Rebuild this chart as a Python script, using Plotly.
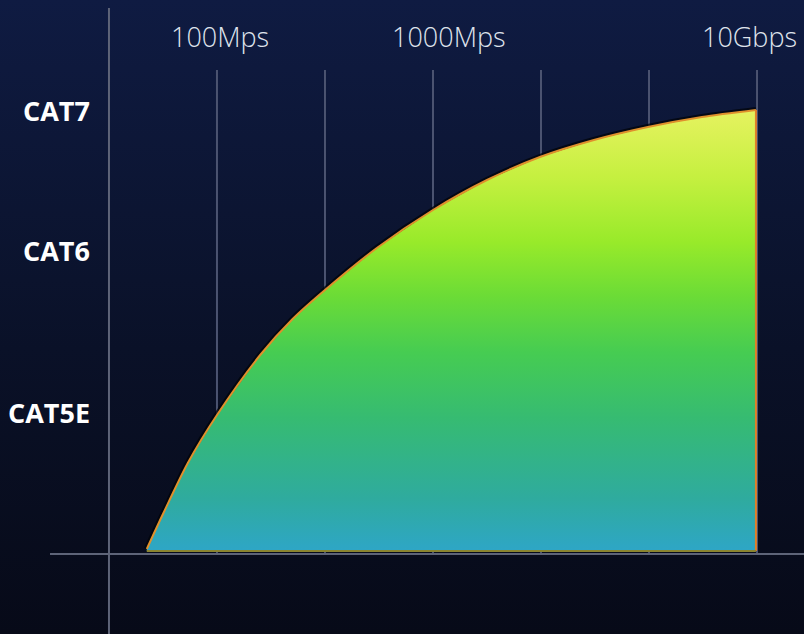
import plotly.graph_objects as go

# ---- data ----
speed_x = [0.35, 0.5, 0.73, 1.0, 1.4, 1.7, 2.0, 2.48, 3.0, 3.5, 3.99, 4.49, 4.99, 5.49, 5.99]
perf_y = [0.05, 0.40, 0.91, 1.39, 1.99, 2.35, 2.64, 3.06, 3.44, 3.74, 3.97, 4.14, 4.27, 4.37, 4.44]
base_y = 0.03

cat_labels = ["CAT5E", "CAT6", "CAT7"]
cat_y = [1.42, 3.04, 4.44]

speed_labels = ["100Mps", "1000Mps", "10Gbps"]
speed_label_x = [1.03, 3.15, 5.93]
speed_label_y = 5.18

grid_x = [1, 2, 3, 4, 5, 6]
grid_top = 4.84

# ---- axis ranges ----
X_RANGE = [-1.009, 6.435]
Y_RANGE = [-0.8, 5.54]

fig = go.Figure()

# background gradient
fig.add_trace(go.Scatter(
    x=[X_RANGE[0], X_RANGE[1], X_RANGE[1], X_RANGE[0], X_RANGE[0]],
    y=[Y_RANGE[0], Y_RANGE[0], Y_RANGE[1], Y_RANGE[1], Y_RANGE[0]],
    mode="none", fill="toself",
    fillgradient=dict(type="vertical",
                      colorscale=[[0, "#070a18"], [0.45, "#0a1128"], [1, "#0f1b42"]]),
    hoverinfo="skip", showlegend=False,
))

# grid lines
gx, gy = [], []
for v in grid_x:
    gx += [v, v, None]
    gy += [0, grid_top, None]
fig.add_trace(go.Scatter(x=gx, y=gy, mode="lines",
                         line=dict(color="#4b5370", width=2),
                         hoverinfo="skip", showlegend=False))

# axis lines
fig.add_trace(go.Scatter(x=[0, 0], y=[Y_RANGE[0], 5.46], mode="lines",
                         line=dict(color="#5e6478", width=2),
                         hoverinfo="skip", showlegend=False))
fig.add_trace(go.Scatter(x=[-0.546, X_RANGE[1]], y=[0, 0], mode="lines",
                         line=dict(color="#5e6478", width=2),
                         hoverinfo="skip", showlegend=False))

# soft dark shadow along the curve (drawn under the fill)
fig.add_trace(go.Scatter(x=speed_x, y=perf_y, mode="lines",
                         line=dict(color="rgba(2,4,10,0.75)", width=6, shape="spline", smoothing=0.8),
                         hoverinfo="skip", showlegend=False))

# filled area
px = speed_x + [speed_x[-1], speed_x[0]]
py = perf_y + [base_y, base_y]
fig.add_trace(go.Scatter(
    x=px, y=py, mode="lines", fill="toself",
    line=dict(color="rgba(0,0,0,0)", width=0),
    fillgradient=dict(type="vertical", start=base_y, stop=perf_y[-1],
                      colorscale=[[0.0, "#2ea6c6"], [0.12, "#2fab9e"], [0.3, "#36bb72"],
                                  [0.45, "#46cc52"], [0.58, "#6cdc36"], [0.7, "#98ea2a"],
                                  [0.85, "#c6f040"], [1.0, "#e6f260"]]),
    hoverinfo="skip", showlegend=False,
))

# outline: curve (spline) and right edge, bottom edge
fig.add_trace(go.Scatter(x=speed_x, y=perf_y, mode="lines",
                         line=dict(color="#e0902c", width=2, shape="spline", smoothing=0.8),
                         hoverinfo="skip", showlegend=False))
fig.add_trace(go.Scatter(x=[speed_x[-1], speed_x[-1]], y=[perf_y[-1], base_y], mode="lines",
                         line=dict(color="#e0802a", width=2),
                         hoverinfo="skip", showlegend=False))
fig.add_trace(go.Scatter(x=[speed_x[0], speed_x[-1]], y=[base_y, base_y], mode="lines",
                         line=dict(color="#8a8430", width=2),
                         hoverinfo="skip", showlegend=False))

annotations = []
for t, yv in zip(cat_labels, cat_y):
    annotations.append(dict(x=-0.16, y=yv, text=t, showarrow=False,
                            xanchor="right", yanchor="middle",
                            font=dict(family="Open Sans", size=27, color="#ffffff", weight="bold")))
for t, xv in zip(speed_labels, speed_label_x):
    annotations.append(dict(x=xv, y=speed_label_y, text=t, showarrow=False,
                            xanchor="center", yanchor="middle",
                            font=dict(family="Open Sans", size=27, color="#dfe3ec", weight=300)))

fig.update_layout(
    width=804, height=634,
    margin=dict(l=0, r=0, t=0, b=0),
    paper_bgcolor="#0a1128", plot_bgcolor="#0a1128",
    xaxis=dict(range=X_RANGE, visible=False, fixedrange=True),
    yaxis=dict(range=Y_RANGE, visible=False, fixedrange=True),
    annotations=annotations,
    showlegend=False,
)

fig.write_html("out.html",
               config={"displayModeBar": False, "staticPlot": True},
               post_script="document.body.style.margin='0';document.body.style.overflow='hidden';")
